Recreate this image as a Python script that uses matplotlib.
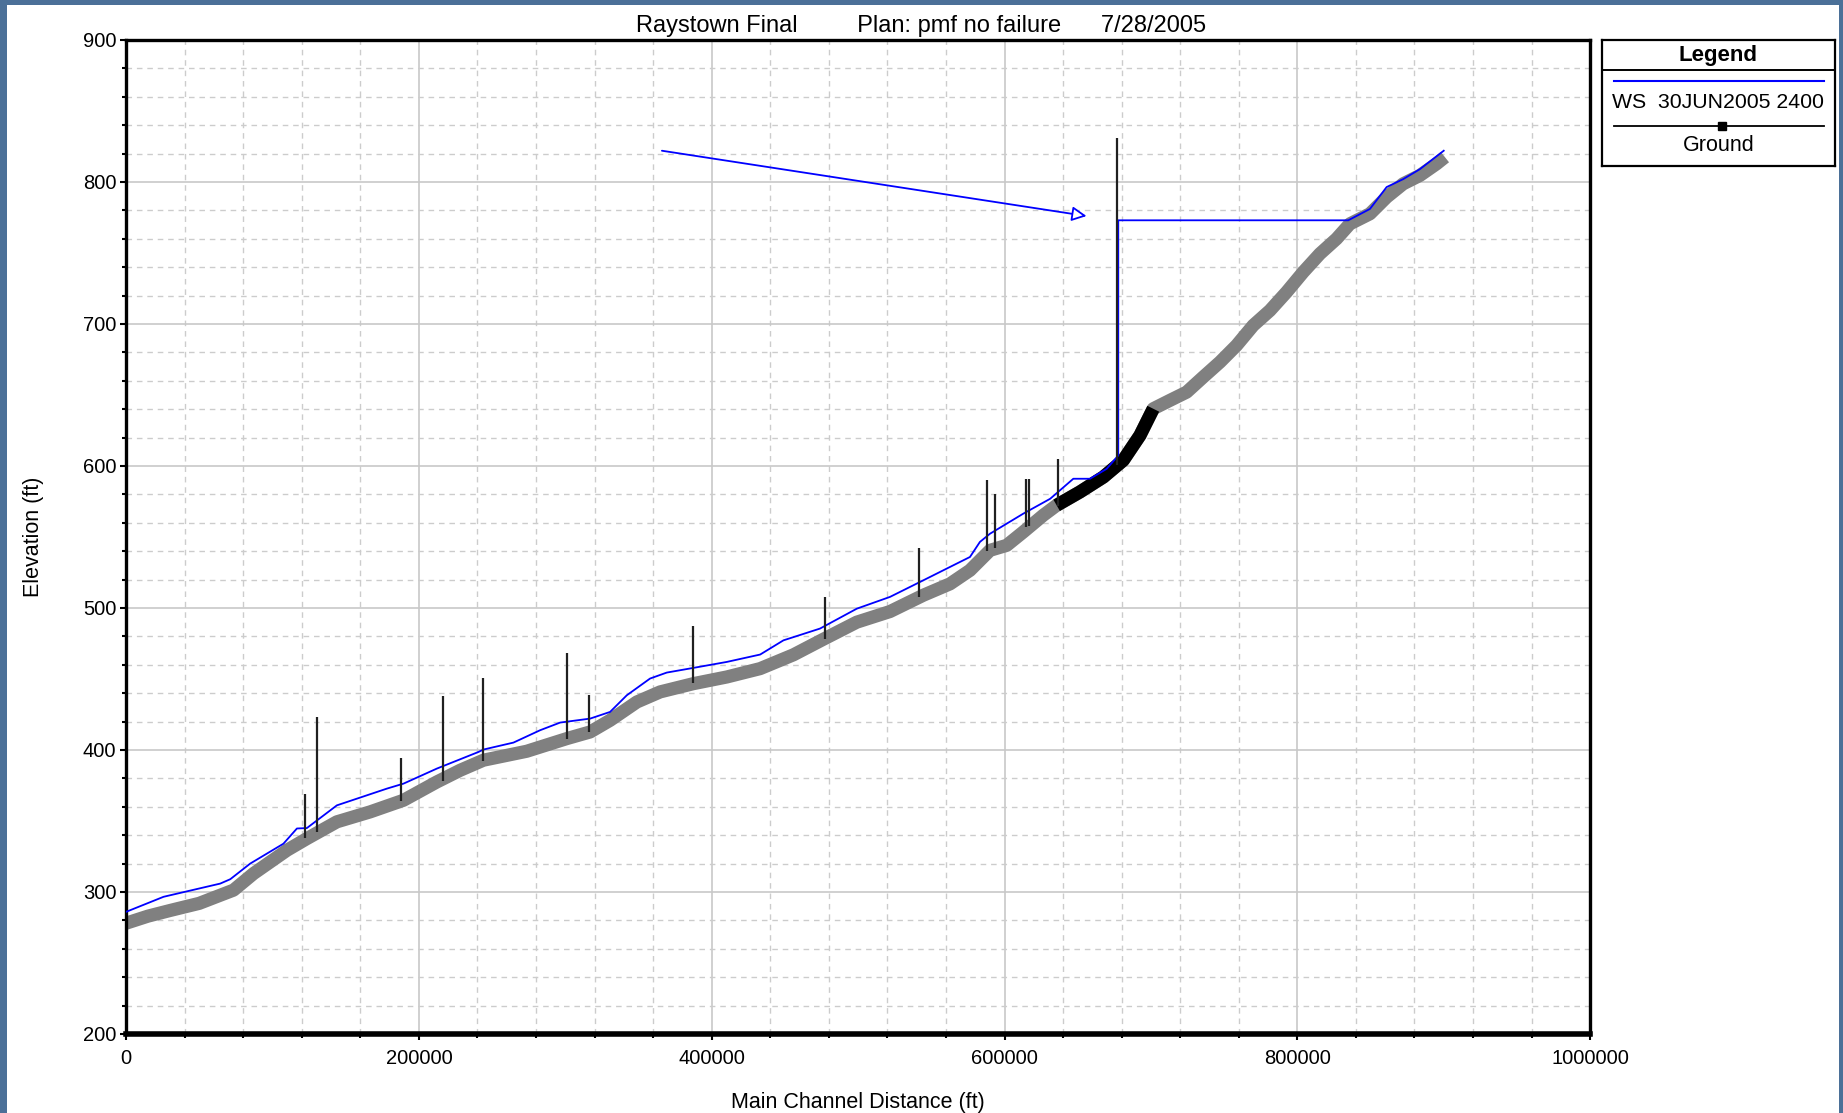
import numpy as np
from matplotlib import pyplot as plt
from matplotlib.patches import Rectangle
from matplotlib.lines import Line2D
from matplotlib.ticker import MultipleLocator

plt.rcParams['font.family'] = ['Liberation Sans', 'DejaVu Sans']

# ground profile (main channel distance ft, elevation ft)
ground_x = [0, 15000, 30200, 50000, 64300, 73400, 87100, 109900, 123500, 144000,
            166700, 189500, 212300, 228200, 244100, 273700, 301000, 317000, 330600,
            348900, 364800, 387500, 410300, 433100, 455800, 476300, 499100, 521800,
            544600, 562800, 576400, 590100, 601500, 612800, 626500, 635600, 651500,
            667500, 681100, 692500, 701600, 713000, 724400, 735700, 747200, 758500,
            769900, 781300, 792700, 804000, 815400, 826800, 835900, 849600, 861000,
            872300, 883700, 895100, 900800]
ground_y = [278, 283, 287, 292, 297.7, 301.3, 313, 329.4, 337.6, 349.4,
            356.4, 364.6, 377.5, 385.7, 392.8, 399.1, 408, 412.7, 420.9,
            433.8, 440.9, 446.7, 451.4, 457.3, 467, 478, 490, 497.5,
            509, 517, 526.5, 540.6, 544.1, 553.5, 565.3, 572.3, 581.7,
            592.2, 604, 621.5, 640.3, 646.2, 652, 662.6, 673.2, 684.9,
            699, 709.5, 722.5, 736.5, 749.4, 760, 770.5, 777.6, 789.3,
            798.7, 804.6, 812.8, 817.5]

# water surface WS 30JUN2005 2400
ws_x = [0, 25600, 64300, 71200, 84800, 107500, 116700, 123500, 144000, 178200,
        189500, 212300, 240700, 244100, 264600, 282800, 296500, 317000, 330600,
        342000, 357900, 369300, 387500, 410300, 433100, 449000, 474000, 499100,
        521800, 544600, 562800, 576400, 583200, 590100, 612800, 631200, 647000,
        658400, 669800, 677700, 677700, 834800, 849600, 861000, 872300, 883700,
        900000]
ws_y = [286, 296.6, 305.9, 309, 320, 334, 344.7, 345, 361, 372.8,
        376.3, 386.9, 398.6, 400.3, 405.2, 413.9, 419.3, 422.1, 426.8,
        438.5, 450.3, 454.5, 457.8, 462, 467.2, 477.2, 485.5, 499.5,
        507.8, 519.5, 528.9, 535.9, 546.5, 552.3, 566.4, 576.9, 591,
        591, 598, 607.4, 773, 773, 781, 796.4, 802, 809,
        822]

# bridges / structures
spike_x = [122400, 130300, 187900, 216400, 243700, 301100, 316300, 387100, 477400,
           541800, 588100, 593500, 615000, 616500, 636300, 676600]
spike_bot = [338, 342, 364, 378, 392, 408, 413, 447, 478,
             508, 540, 542, 557, 558, 572, 601]
spike_top = [369, 423, 394, 438, 451, 468, 439, 487, 508,
             542, 590, 580, 591, 591, 605, 831]

x_ticks = [0, 200000, 400000, 600000, 800000, 1000000]
y_ticks = [200, 300, 400, 500, 600, 700, 800, 900]

black_from, black_to = 633000, 702000
arrow_from = (366000, 822)
arrow_to = (656000, 776)

fig = plt.figure(figsize=(18.43, 11.13), dpi=100, facecolor='#4b7098')
fig.add_artist(Rectangle((0.0038, 0), 0.994, 0.9955, transform=fig.transFigure,
                         facecolor='white', edgecolor='none', zorder=0))

ax = fig.add_axes([0.0684, 0.0710, 0.7944, 0.8931])
ax.set_xticks(x_ticks, [str(v) for v in x_ticks])
ax.set_yticks(y_ticks, [str(v) for v in y_ticks])
ax.xaxis.set_minor_locator(MultipleLocator(40000))
ax.yaxis.set_minor_locator(MultipleLocator(20))
ax.set_xlim(0, 1000000)
ax.set_ylim(200, 900)
ax.grid(which='major', color='#c8c8c8', lw=1.2, ls='-')
ax.grid(which='minor', color='#cccccc', lw=1.0, ls=(0, (4, 3.5)))
ax.set_axisbelow(True)
for s in ['left', 'top', 'right']:
    ax.spines[s].set_linewidth(2.4)
ax.spines['bottom'].set_linewidth(4)
ax.tick_params(which='major', direction='out', length=4, width=1.5, labelsize=14.5, pad=3)
ax.tick_params(which='minor', direction='out', length=3, width=1.5)
ax.tick_params(axis='x', which='major', pad=7)

gx = np.array(ground_x, dtype=float)
gy = np.array(ground_y, dtype=float)
ax.plot(gx, gy, color='#808080', lw=9.5, solid_capstyle='butt', zorder=2)
gb = np.where((gx >= black_from) & (gx <= black_to), gy, np.nan)
ax.plot(gx, gb, color='black', lw=9.5, solid_capstyle='butt', zorder=2.1)

ax.plot(ws_x, ws_y, color='#0000ff', lw=1.3, zorder=3)
ax.vlines(spike_x, spike_bot, spike_top, color='#202020', lw=1.6, zorder=4)

ax.annotate('', xy=arrow_to, xytext=arrow_from,
            arrowprops=dict(arrowstyle='-|>', ec='#0000ff', fc='white', lw=1.3,
                            mutation_scale=22, shrinkA=0, shrinkB=0), zorder=5)

ax.set_xlabel('Main Channel Distance (ft)', fontsize=15.5, labelpad=17)
ax.set_ylabel('Elevation (ft)', fontsize=15.5, labelpad=28)
fig.text(0.5, 0.977, 'Raystown Final         Plan: pmf no failure      7/28/2005',
         ha='center', va='center', fontsize=17)

# legend box
lax = fig.add_axes([0.8692, 0.8509, 0.1264, 0.1132])
lax.set_xlim(0, 1)
lax.set_ylim(0, 1)
lax.set_xticks([])
lax.set_yticks([])
for s in lax.spines.values():
    s.set_linewidth(1.6)
lax.axhline(0.762, color='black', lw=1.4)
lax.text(0.5, 0.88, 'Legend', ha='center', va='center', fontsize=16, fontweight='bold')
lax.add_line(Line2D([0.05, 0.953], [0.675, 0.675], color='#0000ff', lw=1.5))
lax.text(0.5, 0.50, 'WS  30JUN2005 2400', ha='center', va='center', fontsize=15.3)
lax.add_line(Line2D([0.05, 0.953], [0.32, 0.32], color='black', lw=1.3))
lax.plot([0.514], [0.32], marker='s', color='black', ms=6)
lax.text(0.5, 0.16, 'Ground', ha='center', va='center', fontsize=15.5)

fig.savefig('out.png', dpi=100, facecolor=fig.get_facecolor())
